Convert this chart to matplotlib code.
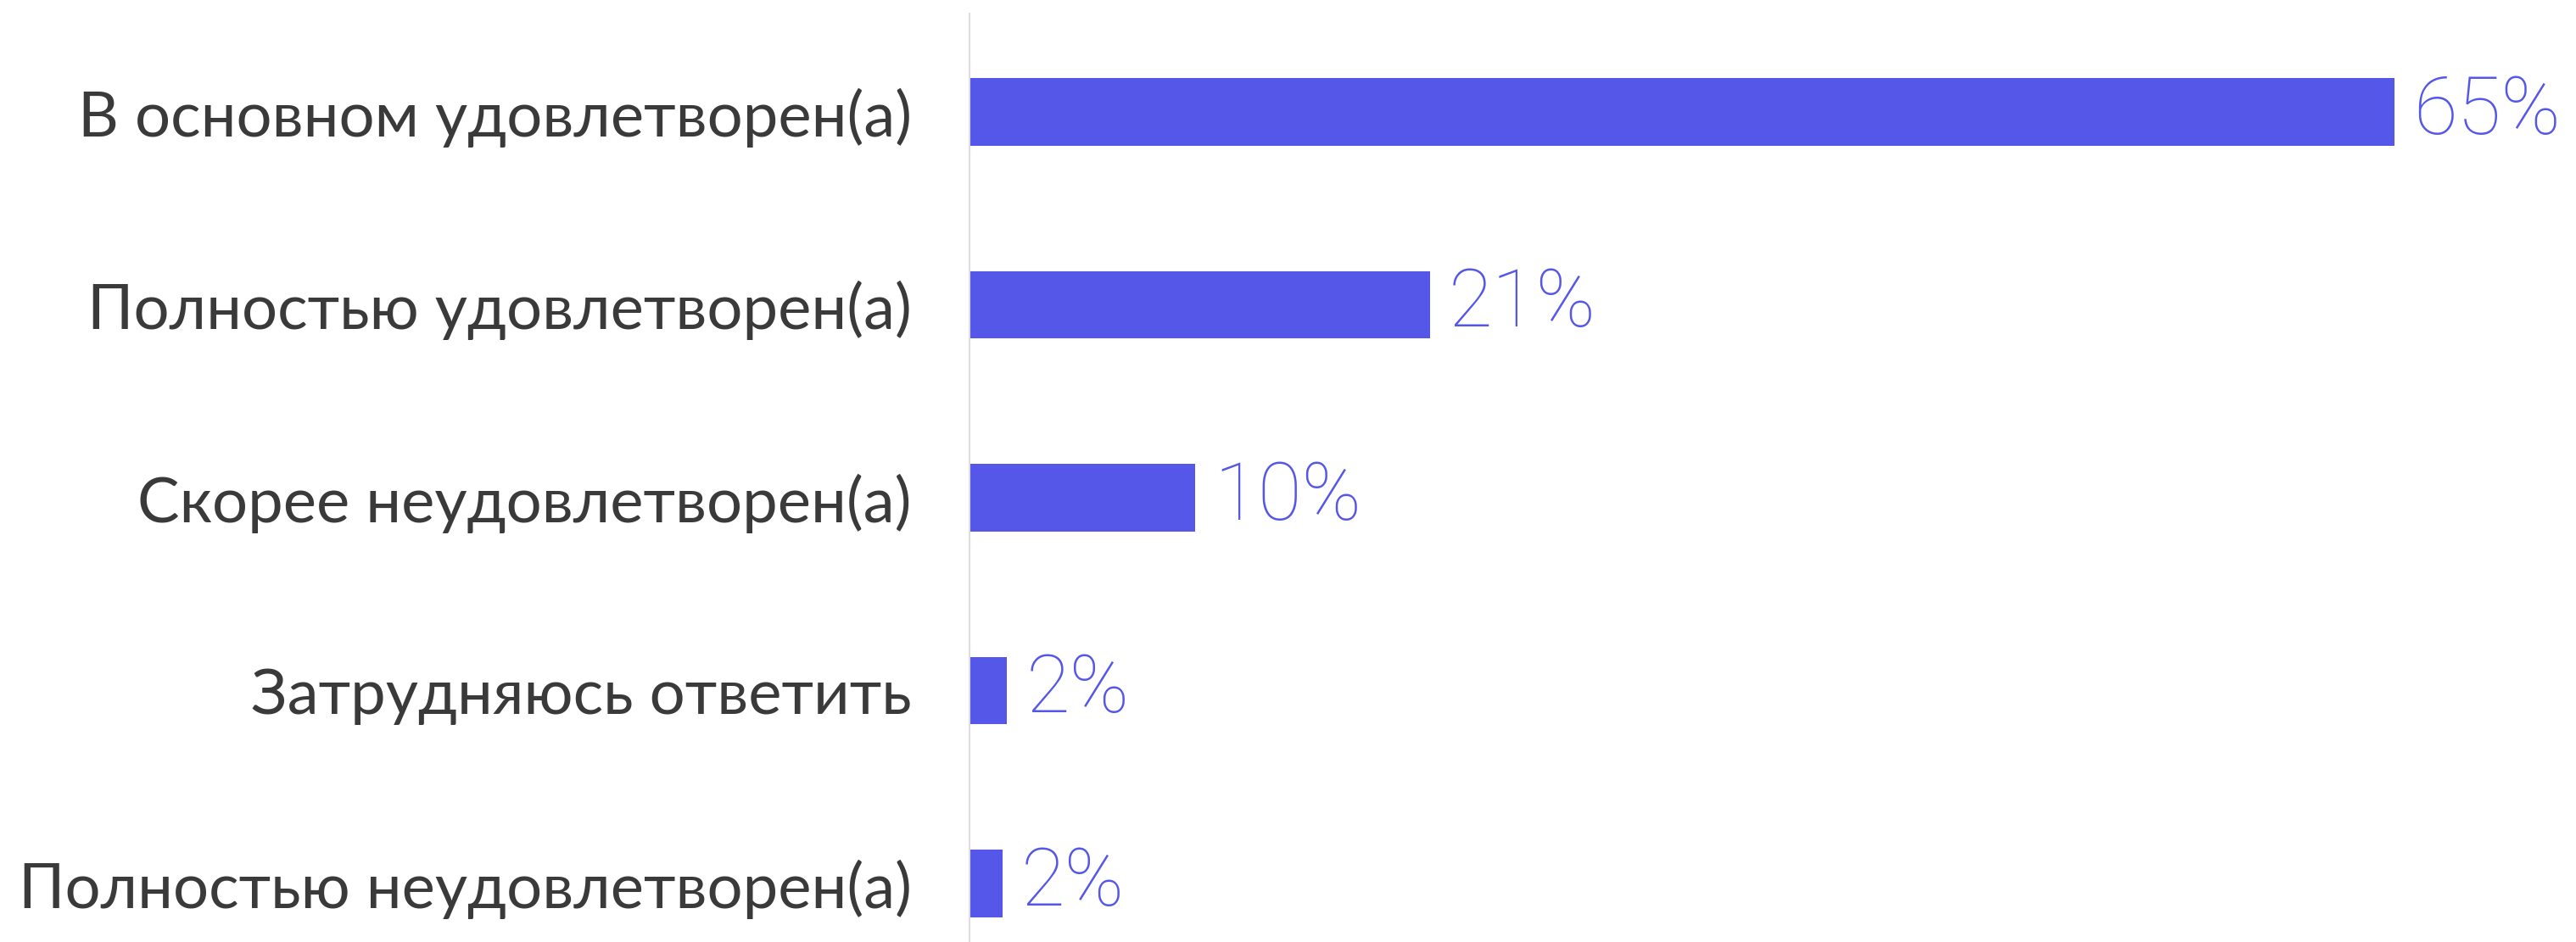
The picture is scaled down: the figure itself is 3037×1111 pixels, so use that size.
import matplotlib
matplotlib.use("Agg")
import matplotlib.pyplot as plt

categories = [
    "В основном удовлетворен(а)",
    "Полностью удовлетворен(а)",
    "Скорее неудовлетворен(а)",
    "Затрудняюсь ответить",
    "Полностью неудовлетворен(а)",
]
values = [65.0, 21.0, 10.3, 1.7, 1.5]
value_labels = ["65%", "21%", "10%", "2%", "2%"]

BAR = "#5557E8"
W, H, DPI = 3037, 1111, 100

fig = plt.figure(figsize=(W / DPI, H / DPI), dpi=DPI)
left = 1143 / W
ax = fig.add_axes([left, 0, 1 - left, 1 - 16 / H])

pos = list(range(len(categories)))
ax.barh(pos, values, height=0.35, color=BAR, zorder=2)

ax.set_xlim(0, (W - 1143) / 25.85)
ax.set_ylim(4.303, -0.51)

for s in ["top", "right", "bottom"]:
    ax.spines[s].set_visible(False)
ax.spines["left"].set_color("#dcdde3")
ax.spines["left"].set_linewidth(1.5)
ax.set_xticks([])
ax.set_yticks(pos)
ax.set_yticklabels(categories, fontsize=53.5, color="#3a3a3a", family=["Lato", "DejaVu Sans"])
ax.tick_params(axis="y", length=0, pad=49)

for p, v, lab in zip(pos, values, value_labels):
    ax.annotate(lab, xy=(v, p), xytext=(16, 0), textcoords="offset points",
                va="center", ha="left", fontsize=68, color=BAR,
                family=["Roboto", "DejaVu Sans"], fontweight="light")

fig.savefig("out.png", dpi=DPI, facecolor="white")
